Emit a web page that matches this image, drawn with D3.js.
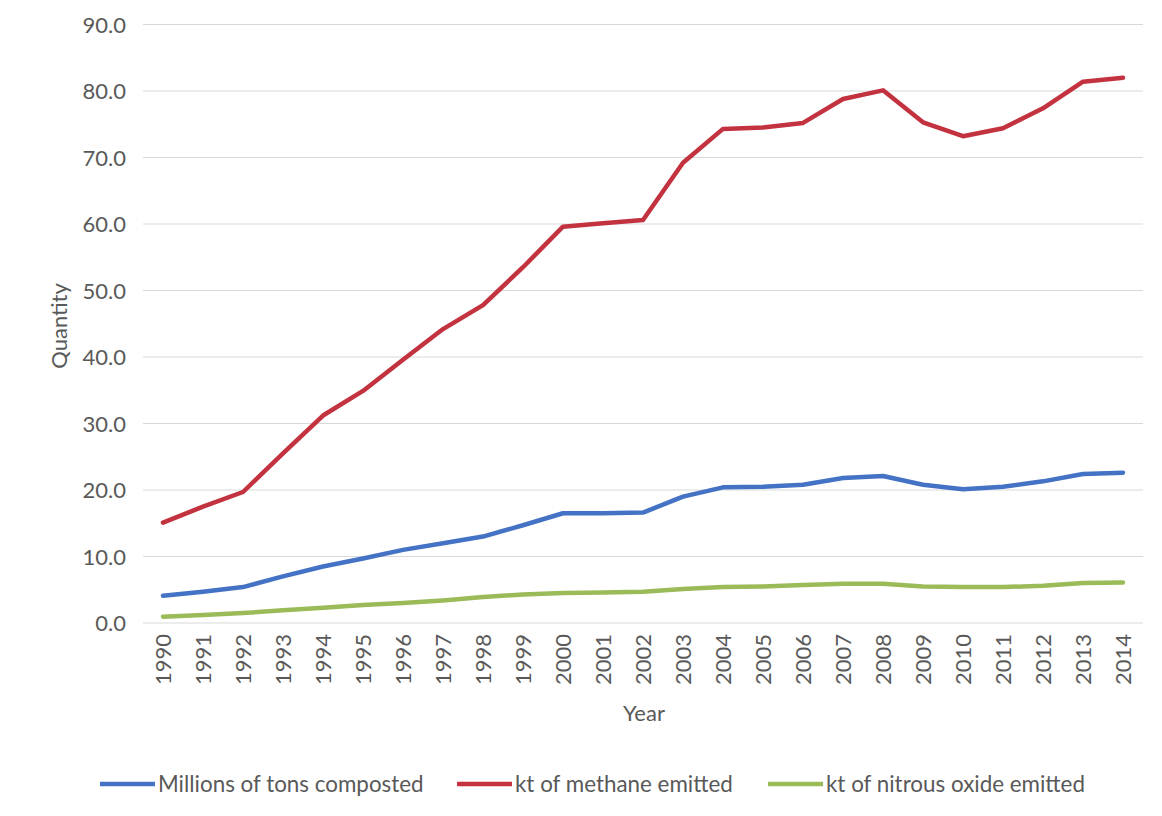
<!DOCTYPE html>
<html><head><meta charset="utf-8">
<script src="https://cdn.jsdelivr.net/npm/d3@7/dist/d3.min.js"></script>
<style>body{margin:0;background:#fff;}svg{display:block;font-family:Lato,"Open Sans",sans-serif;}</style>
</head><body>
<svg id="chart" width="1162" height="816"></svg>
<script>
const years = ["1990","1991","1992","1993","1994","1995","1996","1997","1998","1999","2000","2001","2002","2003","2004","2005","2006","2007","2008","2009","2010","2011","2012","2013","2014"];
const composted = [4.1,4.7,5.4,7.0,8.5,9.7,11.0,12.0,13.0,14.7,16.5,16.5,16.6,19.0,20.4,20.5,20.8,21.8,22.1,20.8,20.1,20.5,21.3,22.4,22.6];
const methane = [15.1,17.5,19.7,25.5,31.2,34.9,39.6,44.2,47.8,53.5,59.6,60.1,60.6,69.2,74.3,74.5,75.2,78.8,80.1,75.3,73.2,74.4,77.4,81.4,82.0];
const nitrous = [0.95,1.2,1.5,1.9,2.3,2.7,3.0,3.4,3.9,4.3,4.5,4.6,4.7,5.1,5.4,5.5,5.7,5.9,5.9,5.5,5.4,5.4,5.6,6.0,6.1];
const yTicks = [0,10,20,30,40,50,60,70,80,90];
const seriesNames = ["Millions of tons composted","kt of methane emitted","kt of nitrous oxide emitted"];
const seriesColors = ["#4472C4","#C3323F","#9BBB59"];

const svg = d3.select("#chart");
const x = d3.scaleBand().domain(years).range([143,1143]);
const y = d3.scaleLinear().domain([0,90]).range([623,24.5]);
const FS = 22;

// gridlines
svg.append("g").selectAll("line").data(yTicks).join("line")
  .attr("x1",143).attr("x2",1143)
  .attr("y1",d=>y(d)).attr("y2",d=>y(d))
  .attr("stroke","#d9d9d9").attr("stroke-width",1.2);

// y axis labels
const yAxis = svg.append("g").attr("transform","translate(126,0)")
  .call(d3.axisLeft(y).tickValues(yTicks).tickFormat(d3.format(".1f")).tickSize(0).tickPadding(0));
yAxis.select(".domain").remove();
yAxis.selectAll("text").attr("font-size",FS).attr("fill","#595959").attr("font-family","Lato,'Open Sans',sans-serif").attr("dy","0.35em");

// x axis labels
const xAxis = svg.append("g").attr("transform","translate(0,623)")
  .call(d3.axisBottom(x).tickSize(0).tickPadding(0));
xAxis.select(".domain").remove();
xAxis.selectAll("text")
  .attr("font-size",FS).attr("fill","#595959").attr("font-family","Lato,'Open Sans',sans-serif")
  .attr("text-anchor","end").attr("transform","rotate(-90)")
  .attr("x",-11).attr("y",0).attr("dy","0.35em");

// axis titles
svg.append("text").attr("x",644).attr("y",721).attr("text-anchor","middle")
  .attr("font-size",FS).attr("fill","#595959").text("Year");
svg.append("text").attr("transform","translate(67,326) rotate(-90)").attr("text-anchor","middle")
  .attr("font-size",FS).attr("fill","#595959").text("Quantity");

// lines
const data = [composted, methane, nitrous];
const line = d3.line().x((d,i)=>x(years[i])+x.bandwidth()/2).y(d=>y(d));
svg.append("g").selectAll("path").data(data).join("path")
  .attr("d",line).attr("fill","none")
  .attr("stroke",(d,i)=>seriesColors[i]).attr("stroke-width",4.5)
  .attr("stroke-linejoin","round").attr("stroke-linecap","round");

// legend
const legendX = [100,457,768];
const lg = svg.append("g").selectAll("g").data(seriesNames).join("g")
  .attr("transform",(d,i)=>`translate(${legendX[i]},784)`);
lg.append("line").attr("x1",0).attr("x2",55).attr("y1",0).attr("y2",0)
  .attr("stroke",(d,i)=>seriesColors[i]).attr("stroke-width",4.5);
lg.append("text").attr("x",58).attr("y",0).attr("dy","0.35em")
  .attr("font-size",22.4).attr("fill","#595959").text(d=>d);
</script>
</body></html>
